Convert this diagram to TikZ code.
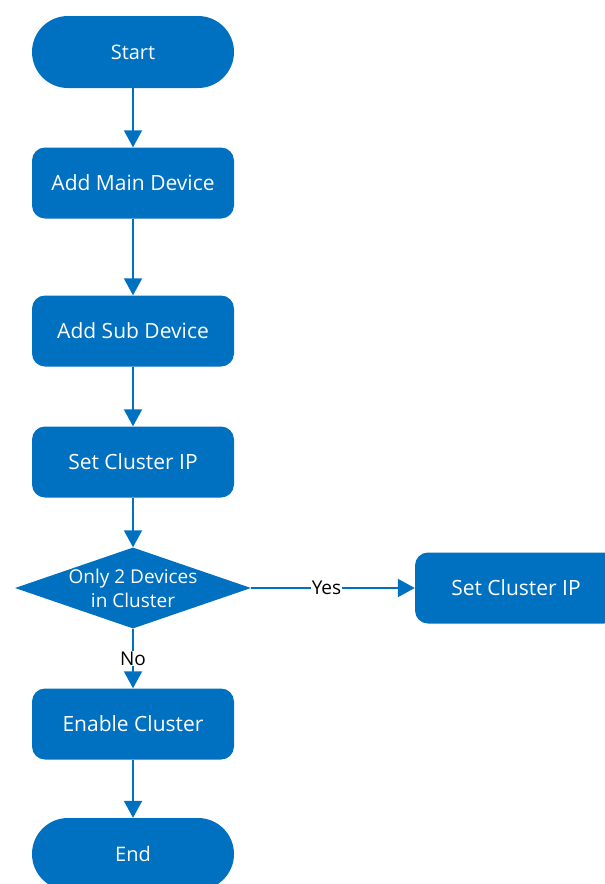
\documentclass[tikz,border=0pt]{standalone}
\usepackage{fontspec}
\setmainfont{Open Sans}
\usepackage{tikz}
\usetikzlibrary{positioning,arrows.meta,shapes.geometric}
\usepackage{xcolor}
\definecolor{flowblue}{RGB}{0,112,192}

\tikzset{
  termbox/.style={fill=flowblue,text=white,rounded corners=36pt,minimum width=202pt,minimum height=72pt,font=\fontsize{20}{24}\selectfont},
  procbox/.style={fill=flowblue,text=white,rounded corners=13pt,minimum width=202pt,minimum height=71pt,font=\fontsize{21}{25}\selectfont},
  decision/.style={diamond,fill=flowblue,inner sep=0pt,minimum width=236pt,minimum height=81pt},
  flow/.style={draw=flowblue,line width=2pt,-{Triangle[width=18pt,length=17pt]}},
  answer/.style={fill=white,inner sep=1pt,font=\fontsize{19}{23}\selectfont}
}

\begin{document}
\begin{tikzpicture}[x=1pt,y=-1pt]
\useasboundingbox (0,0) rectangle (605,884);
\node[termbox] (start)  at (133,52)  {Start};
\node[procbox] (addmain) at (133,183) {Add Main Device};
\node[procbox] (addsub)  at (133,331) {Add Sub Device};
\node[procbox] (setip)   at (133,462) {Set Cluster IP};
\node[decision,label={[text=white,align=center,font=\fontsize{19}{24}\selectfont]center:Only 2 Devices\\in Cluster}] (check) at (133,588) {};
\node[procbox] (setipyes) at (516,588) {Set Cluster IP};
\node[procbox] (enable)  at (133,724) {Enable Cluster};
\node[termbox] (finish)  at (133,854) {End};
\draw[flow] (start) -- (addmain);
\draw[flow] (addmain) -- (addsub);
\draw[flow] (addsub) -- (setip);
\draw[flow] (setip) -- (check);
\draw[flow] (check.east) -- node[answer,pos=0.46,text=black] {Yes} (setipyes);
\draw[flow] (check.south) -- node[answer,pos=0.5,text=black] {No} (enable);
\draw[flow] (enable) -- (finish);
\end{tikzpicture}
\end{document}
